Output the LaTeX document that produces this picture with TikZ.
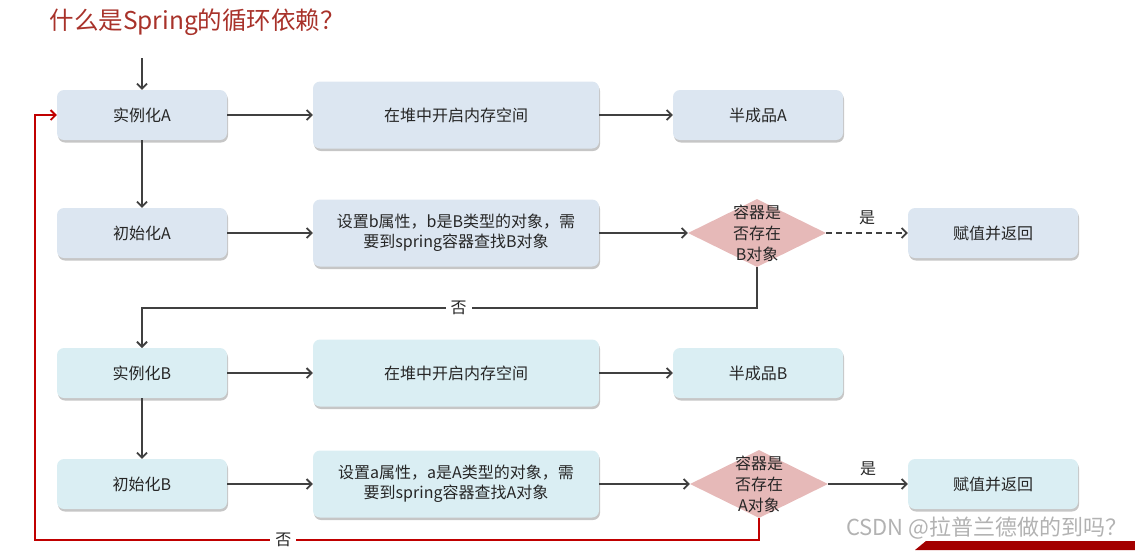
\documentclass[tikz,border=0pt]{standalone}
\usepackage{fontspec}
\setmainfont{Noto Sans CJK SC}
\usepackage{tikz}
\usetikzlibrary{shapes.geometric,shadows,arrows.meta}

\definecolor{boxa}{HTML}{DCE6F1}
\definecolor{boxb}{HTML}{DAEEF3}
\definecolor{judge}{HTML}{E6B9B8}
\definecolor{flowgray}{HTML}{404040}
\definecolor{backred}{HTML}{C00000}
\definecolor{titlered}{HTML}{A8322A}

\begin{document}
\begin{tikzpicture}[x=1pt, y=-1pt, >={Straight Barb[length=5pt,width=10pt]},
    box/.style={rounded corners=7pt, minimum width=170pt, minimum height=50pt,
        align=center, text=black!85, font=\fontsize{16}{20}\selectfont,
        drop shadow={shadow xshift=1pt, shadow yshift=-2.5pt, opacity=0.45}},
    boxA/.style={box, fill=boxa},
    boxB/.style={box, fill=boxb},
    wide/.style={minimum width=286pt, minimum height=67pt},
    decide/.style={diamond, aspect=2, fill=judge, inner sep=0pt,
        minimum width=138pt, minimum height=68pt},
    flow/.style={->, line width=1.8pt, draw=flowgray},
    back/.style={->, line width=1.8pt, draw=backred},
    lbl/.style={font=\fontsize{16}{18}\selectfont, text=black!85}]
    \useasboundingbox (0,0) rectangle (1135,550);

    % Title
    \node[anchor=west, text=titlered, font=\fontsize{24.5}{24}\selectfont] (title) at (46,22) {什么是Spring的循环依赖？};

    % Row A
    \coordinate (start) at (142,58);
    \node[boxA] (iA) at (142,115) {实例化A};
    \node[boxA, wide] (heapA) at (456,115) {在堆中开启内存空间};
    \node[boxA] (halfA) at (758,115) {半成品A};
    \node[boxA] (initA) at (142,233) {初始化A};
    \node[boxA, wide] (setB) at (456,233) {设置b属性，b是B类型的对象，需\\要到spring容器查找B对象};
    \node[decide] (dA) at (757,233) {};
    \node[lbl, align=center, font=\fontsize{16}{21}\selectfont] (dAt) at (dA) {容器是\\否存在\\B对象};
    \node[boxA] (retA) at (993,233) {赋值并返回};

    \draw[flow] (start) -- (iA);
    \draw[flow] (iA) -- (heapA);
    \draw[flow] (heapA) -- (halfA);
    \draw[flow] (iA) -- (initA);
    \draw[flow] (initA) -- (setB);
    \draw[flow] (setB) -- (dA);
    \draw[flow, dashed, dash pattern=on 6pt off 4pt] (dA) -- node[lbl, above=4pt] {是} (retA);

    % No: go on with B
    \coordinate (noA) at (757,308);
    \coordinate (turnA) at (142,308);
    \draw[flow] (dA.south) -- (noA) -- node[lbl, fill=white, pos=0.485, inner sep=5pt] {否} (turnA) -- (142,348);

    % Row B
    \node[boxB] (iB) at (142,373) {实例化B};
    \node[boxB, wide] (heapB) at (456,373) {在堆中开启内存空间};
    \node[boxB] (halfB) at (758,373) {半成品B};
    \node[boxB] (initB) at (142,484) {初始化B};
    \node[boxB, wide] (setA) at (456,484) {设置a属性，a是A类型的对象，需\\要到spring容器查找A对象};
    \node[decide] (dB) at (759,484) {};
    \node[lbl, align=center, font=\fontsize{16}{21}\selectfont] (dBt) at (dB) {容器是\\否存在\\A对象};
    \node[boxB] (retB) at (993,484) {赋值并返回};

    \draw[flow] (iB) -- (heapB);
    \draw[flow] (heapB) -- (halfB);
    \draw[flow] (iB) -- (initB);
    \draw[flow] (initB) -- (setA);
    \draw[flow] (setA) -- (dB);
    \draw[flow] (dB) -- node[lbl, above=4pt] {是} (retB);

    % No: back to A
    \coordinate (noB) at (759,540);
    \coordinate (turnB) at (35,540);
    \coordinate (turnC) at (35,115);
    \draw[back] (dB.south) -- (noB) -- node[lbl, fill=white, pos=0.657, inner sep=5pt] {否} (turnB) -- (turnC) -- (iA.west);

    % Watermark
    \fill[backred!85!black] (915,550) -- (926,541) -- (1135,541) -- (1135,550) -- cycle;
    \node[anchor=east, text=black!30, font=\fontsize{22}{22}\selectfont] (mark) at (1131,528) {CSDN @拉普兰德做的到吗？};
\end{tikzpicture}
\end{document}
